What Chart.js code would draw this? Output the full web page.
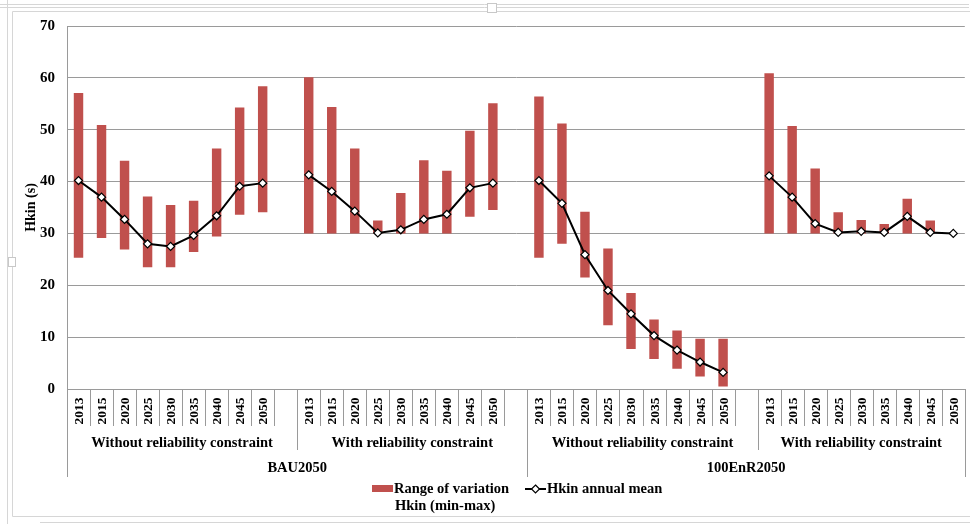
<!DOCTYPE html>
<html>
<head>
<meta charset="utf-8">
<script src="https://cdn.jsdelivr.net/npm/chart.js@4/dist/chart.umd.min.js"></script>
<style>
  html, body { margin: 0; padding: 0; background: #fff; }
  #wrap { width: 970px; height: 524px; position: relative; }
</style>
</head>
<body>
<div id="wrap"><canvas id="c" width="970" height="524"></canvas></div>
<script>
// Years shown inside every constraint group
const years = ['2013', '2015', '2020', '2025', '2030', '2035', '2040', '2045', '2050'];
const constraintGroups = ['Without reliability constraint', 'With reliability constraint',
                          'Without reliability constraint', 'With reliability constraint'];
const scenarios = ['BAU2050', '100EnR2050'];

// Hkin (s): min / max / annual mean, per scenario and constraint
const bauWithoutMin  = [25.3, 29.1, 26.9, 23.5, 23.5, 26.4, 29.4, 33.6, 34.1];
const bauWithoutMax  = [57.1, 50.9, 44.0, 37.1, 35.5, 36.3, 46.4, 54.3, 58.4];
const bauWithoutMean = [40.2, 37.0, 32.7, 28.0, 27.5, 29.6, 33.4, 39.1, 39.7];

const bauWithMin  = [30.0, 30.0, 30.0, 30.0, 30.0, 30.0, 30.0, 33.2, 34.5];
const bauWithMax  = [60.1, 54.4, 46.4, 32.5, 37.8, 44.1, 42.1, 49.8, 55.1];
const bauWithMean = [41.3, 38.1, 34.3, 30.1, 30.7, 32.7, 33.7, 38.8, 39.7];

const enrWithoutMin  = [25.3, 28.0, 21.5, 12.3, 7.7, 5.8, 3.9, 2.4, 0.5];
const enrWithoutMax  = [56.4, 51.2, 34.2, 27.1, 18.5, 13.4, 11.3, 9.7, 9.7];
const enrWithoutMean = [40.2, 35.8, 25.9, 19.0, 14.5, 10.3, 7.5, 5.2, 3.2];

const enrWithMin  = [30.0, 30.0, 30.0, 30.0, 30.0, 30.0, 30.0, 30.0, 30.0];
const enrWithMax  = [60.9, 50.7, 42.5, 34.1, 32.6, 31.8, 36.7, 32.5, 30.0];
const enrWithMean = [41.1, 37.0, 31.9, 30.2, 30.4, 30.2, 33.3, 30.2, 30.0];

const yMin = 0, yMax = 70, yStep = 10;

// Assemble the category axis: four groups of years separated by one empty slot
const groupMins  = [bauWithoutMin, bauWithMin, enrWithoutMin, enrWithMin];
const groupMaxs  = [bauWithoutMax, bauWithMax, enrWithoutMax, enrWithMax];
const groupMeans = [bauWithoutMean, bauWithMean, enrWithoutMean, enrWithMean];

const labels = [], ranges = [], means = [], groupSpans = [];
groupMins.forEach((mins, g) => {
  const start = labels.length;
  years.forEach((y, i) => {
    labels.push(y);
    ranges.push([mins[i], groupMaxs[g][i]]);
    means.push(groupMeans[g][i]);
  });
  if (g < groupMins.length - 1) { labels.push(''); ranges.push(null); means.push(null); }
  groupSpans.push([start, labels.length]);
});
const scenarioSpans = [[groupSpans[0][0], groupSpans[1][1]], [groupSpans[2][0], groupSpans[3][1]]];

const FONT = '"Liberation Serif", "Times New Roman", serif';
const RED = '#c0504d';
const GRID = '#9a9a9a';

// Multi-level category axis, axis title, legend and frame
const decorations = {
  id: 'decorations',
  beforeDraw(chart) {
    const ctx = chart.ctx;
    ctx.save();
    ctx.strokeStyle = '#d6d6d6';
    ctx.lineWidth = 1;
    ctx.beginPath();
    ctx.moveTo(0, 4.5); ctx.lineTo(969, 4.5);
    ctx.moveTo(0, 7.5); ctx.lineTo(969, 7.5);
    ctx.moveTo(12.5, 11.5); ctx.lineTo(970, 11.5);
    ctx.moveTo(12.5, 11.5); ctx.lineTo(12.5, 516.5);
    ctx.moveTo(12.5, 516.5); ctx.lineTo(970, 516.5);
    ctx.moveTo(40, 522.5); ctx.lineTo(970, 522.5);
    ctx.moveTo(7.5, 0); ctx.lineTo(7.5, 524);
    ctx.stroke();
    // small selection handles
    ctx.fillStyle = '#fff';
    ctx.strokeStyle = '#c8c8c8';
    ctx.fillRect(487.5, 3.5, 9, 9); ctx.strokeRect(487.5, 3.5, 9, 9);
    ctx.fillRect(8.5, 257.5, 7, 9); ctx.strokeRect(8.5, 257.5, 7, 9);
    ctx.restore();
  },
  afterDraw(chart) {
    const ctx = chart.ctx;
    const area = chart.chartArea;
    const xs = chart.scales.x;
    const n = labels.length;
    const w = (area.right - area.left) / n;
    const edge = i => area.left + i * w;
    const bottom = area.bottom;

    ctx.save();
    ctx.strokeStyle = GRID;
    ctx.lineWidth = 1;

    // axis line
    ctx.beginPath();
    ctx.moveTo(area.left, Math.round(bottom) + 0.5);
    ctx.lineTo(area.right, Math.round(bottom) + 0.5);
    ctx.stroke();

    // separators
    const scenarioEdges = new Set(scenarioSpans.flat());
    const groupEdges = new Set(groupSpans.flat());
    for (let i = 0; i <= n; i++) {
      let len = 37;
      if (scenarioEdges.has(i)) len = 88;
      else if (groupEdges.has(i)) len = 61;
      const x = Math.round(edge(i)) + 0.5;
      ctx.beginPath();
      ctx.moveTo(x, bottom);
      ctx.lineTo(x, bottom + len);
      ctx.stroke();
    }

    ctx.fillStyle = '#000';
    // years, rotated
    ctx.font = 'bold 13.5px ' + FONT;
    ctx.textAlign = 'center';
    ctx.textBaseline = 'middle';
    labels.forEach((lab, i) => {
      if (!lab) return;
      const x = xs.getPixelForValue(i);
      ctx.save();
      ctx.translate(x + 1, bottom + 22);
      ctx.rotate(-Math.PI / 2);
      ctx.fillText(lab, 0, 0);
      ctx.restore();
    });

    // constraint groups
    ctx.font = 'bold 14.5px ' + FONT;
    groupSpans.forEach(([a, b], g) => {
      ctx.fillText(constraintGroups[g], (edge(a) + edge(b)) / 2, bottom + 54);
    });
    // scenarios
    scenarioSpans.forEach(([a, b], s) => {
      ctx.fillText(scenarios[s], (edge(a) + edge(b)) / 2, bottom + 79);
    });

    // y-axis title
    ctx.save();
    ctx.translate(31, (area.top + area.bottom) / 2);
    ctx.rotate(-Math.PI / 2);
    ctx.font = 'bold 14px ' + FONT;
    ctx.fillText('Hkin (s)', 0, 0);
    ctx.restore();

    // legend
    const ly = 489;
    ctx.fillStyle = RED;
    ctx.fillRect(372, ly - 4, 21, 7);
    ctx.fillStyle = '#000';
    ctx.textAlign = 'left';
    ctx.font = 'bold 14.5px ' + FONT;
    ctx.fillText('Range of variation', 394, ly);
    ctx.fillText('Hkin (min-max)', 395, ly + 17);

    ctx.strokeStyle = '#000';
    ctx.lineWidth = 2;
    ctx.beginPath();
    ctx.moveTo(525, ly); ctx.lineTo(546, ly);
    ctx.stroke();
    ctx.fillStyle = '#fff';
    ctx.lineWidth = 1.2;
    ctx.beginPath();
    ctx.moveTo(535.5, ly - 4); ctx.lineTo(539.5, ly); ctx.lineTo(535.5, ly + 4); ctx.lineTo(531.5, ly);
    ctx.closePath();
    ctx.fill(); ctx.stroke();
    ctx.fillStyle = '#000';
    ctx.fillText('Hkin annual mean', 547, ly);

    ctx.restore();
  }
};

new Chart(document.getElementById('c'), {
  type: 'bar',
  data: {
    labels: labels,
    datasets: [
      {
        type: 'line',
        label: 'Hkin annual mean',
        data: means,
        borderColor: '#000',
        borderWidth: 2,
        tension: 0,
        spanGaps: false,
        pointStyle: 'rectRot',
        pointRadius: 4,
        pointBackgroundColor: '#fff',
        pointBorderColor: '#000',
        pointBorderWidth: 1.2,
        order: 1
      },
      {
        type: 'bar',
        label: 'Range of variation Hkin (min-max)',
        data: ranges,
        backgroundColor: RED,
        borderWidth: 0,
        categoryPercentage: 1,
        barPercentage: 0.41,
        order: 2
      }
    ]
  },
  options: {
    responsive: false,
    animation: false,
    devicePixelRatio: 1,
    layout: { padding: { left: 0, right: 4, top: 26, bottom: 135 } },
    plugins: { legend: { display: false }, tooltip: { enabled: false } },
    scales: {
      x: { display: false, offset: true },
      y: {
        min: yMin, max: yMax,
        ticks: { stepSize: yStep, padding: 12, color: '#000', font: { family: FONT, weight: 'bold', size: 15 } },
        grid: { color: GRID, lineWidth: 1, drawTicks: false },
        border: { color: GRID },
        afterFit(scale) { scale.width = 67; }
      }
    }
  },
  plugins: [decorations]
});
</script>
</body>
</html>
